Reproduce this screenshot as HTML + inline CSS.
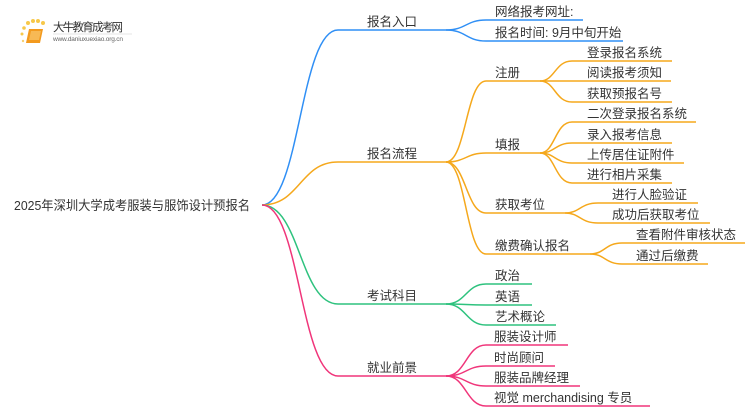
<!DOCTYPE html>
<html><head><meta charset="utf-8"><style>
html,body{margin:0;padding:0;background:#fff;width:750px;height:410px;overflow:hidden}
text{font-family:"Liberation Sans","Noto Sans CJK SC",sans-serif;fill:#333}
</style></head><body>
<svg width="750" height="410" viewBox="0 0 750 410" xmlns="http://www.w3.org/2000/svg" fill="none" stroke-width="1.5">
<g>
<circle cx="24" cy="28" r="1.8" fill="#f7c84a" stroke="none"/>
<circle cx="28" cy="23" r="2" fill="#f7c84a" stroke="none"/>
<circle cx="33" cy="21" r="2" fill="#f7c84a" stroke="none"/>
<circle cx="38" cy="21" r="2" fill="#f7c84a" stroke="none"/>
<circle cx="43" cy="23" r="2" fill="#f7c84a" stroke="none"/>
<circle cx="22" cy="34" r="1.5" fill="#f7c84a" stroke="none"/>
<circle cx="23" cy="41" r="1.2" fill="#f7d070" stroke="none"/>
<path d="M29 29 L43 29 L40 43 L26 43 Z" fill="#f39a1e" stroke="none"/>
<path d="M31 31 L41 31 L39 40 L29 40 Z" fill="#f7b955" stroke="none"/>
<text x="53" y="31" font-size="11.5" style="fill:#333" textLength="70">大牛教育成考网</text>
<text x="53" y="41" font-size="6.5" style="fill:#666" textLength="70">www.daniuxuexiao.org.cn</text>
<line x1="53" y1="34" x2="132" y2="34" stroke="#ddd" stroke-width="0.8"/>
</g>

<text x="14" y="210" font-size="13" textLength="236" lengthAdjust="spacingAndGlyphs">2025年深圳大学成考服装与服饰设计预报名</text>

<g stroke="#2f8ff5">
<path d="M262 205 C300 205 300 30 338 30 L446 30"/>
<path d="M446 30 C466 30 466 20 486 20 L583 20"/>
<path d="M446 30 C466 30 466 41 486 41 L623 41"/>
</g>
<g stroke="#f5a81c">
<path d="M262 205 C300 205 300 162 338 162 L446 162"/>
<path d="M446 162 C466 162 466 81 486 81 L540 81"/>
<path d="M446 162 C466 162 466 153 486 153 L540 153"/>
<path d="M446 162 C466 162 466 213 486 213 L565 213"/>
<path d="M446 162 C466 162 466 254 486 254 L590 254"/>
<path d="M540 81 C555 81 555 61 572 61 L672 61"/>
<path d="M540 81 L671 81"/>
<path d="M540 81 C555 81 555 102 572 102 L672 102"/>
<path d="M540 153 C555 153 555 122 572 122 L696 122"/>
<path d="M540 153 C555 153 555 143 572 143 L672 143"/>
<path d="M540 153 C555 153 555 163 572 163 L684 163"/>
<path d="M540 153 C555 153 555 183 572 183 L672 183"/>
<path d="M565 213 C580 213 580 203 598 203 L698 203"/>
<path d="M565 213 C580 213 580 223 598 223 L710 223"/>
<path d="M590 254 C605 254 605 243 622 243 L745 243"/>
<path d="M590 254 C605 254 605 264 622 264 L708 264"/>
</g>
<g stroke="#2ec27e">
<path d="M262 205 C300 205 300 304 338 304 L446 304"/>
<path d="M446 304 C466 304 466 284 486 284 L532 284"/>
<path d="M446 304 C466 304 466 305 486 305 L532 305"/>
<path d="M446 304 C466 304 466 325 486 325 L556 325"/>
</g>
<g stroke="#f0357a">
<path d="M262 205 C300 205 300 376 338 376 L446 376"/>
<path d="M446 376 C466 376 466 345 486 345 L568 345"/>
<path d="M446 376 C466 376 466 366 486 366 L555 366"/>
<path d="M446 376 C466 376 466 386 486 386 L580 386"/>
<path d="M446 376 C466 376 466 406 486 406 L650 406"/>
</g>

<g font-size="12.5">
<text x="367" y="26">报名入口</text>
<text x="367" y="158">报名流程</text>
<text x="367" y="300">考试科目</text>
<text x="367" y="372">就业前景</text>

<text x="495" y="16">网络报考网址:</text>
<text x="495" y="37">报名时间: 9月中旬开始</text>

<text x="495" y="77">注册</text>
<text x="495" y="149">填报</text>
<text x="495" y="209">获取考位</text>
<text x="495" y="250">缴费确认报名</text>

<text x="587" y="57">登录报名系统</text>
<text x="587" y="77">阅读报考须知</text>
<text x="587" y="98">获取预报名号</text>
<text x="587" y="118">二次登录报名系统</text>
<text x="587" y="139">录入报考信息</text>
<text x="587" y="159">上传居住证附件</text>
<text x="587" y="179">进行相片采集</text>
<text x="612" y="199">进行人脸验证</text>
<text x="612" y="219">成功后获取考位</text>
<text x="636" y="239">查看附件审核状态</text>
<text x="636" y="260">通过后缴费</text>

<text x="495" y="280">政治</text>
<text x="495" y="301">英语</text>
<text x="495" y="321">艺术概论</text>

<text x="494" y="341">服装设计师</text>
<text x="494" y="362">时尚顾问</text>
<text x="494" y="382">服装品牌经理</text>
<text x="494" y="402">视觉 merchandising 专员</text>
</g>
</svg>
</body></html>
